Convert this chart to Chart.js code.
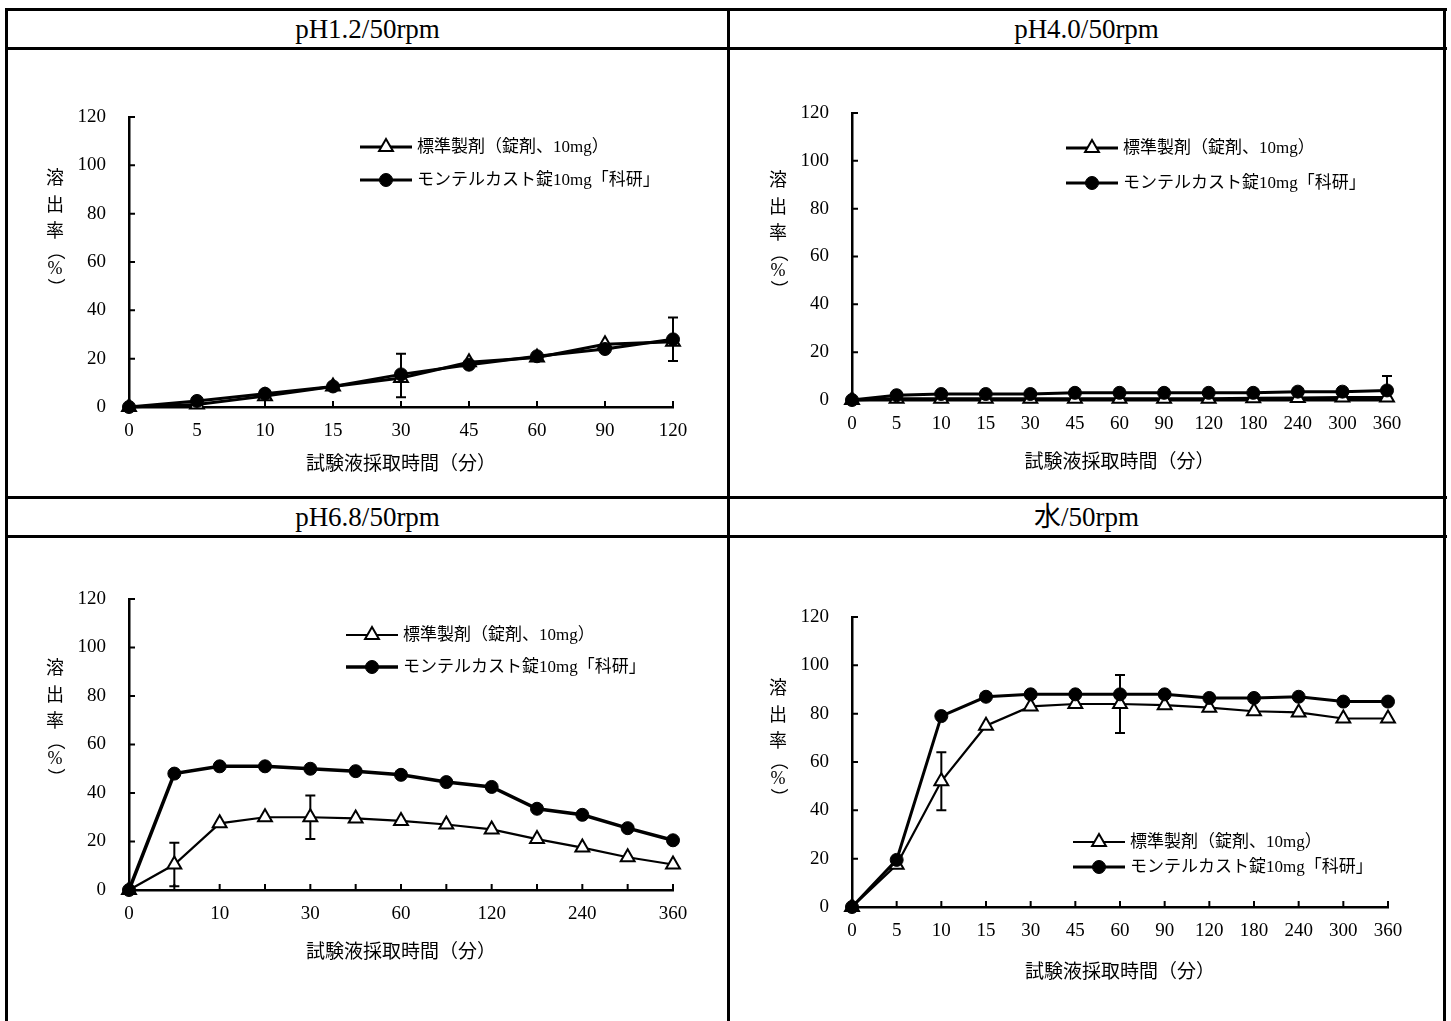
<!DOCTYPE html>
<html lang="ja">
<head>
<meta charset="utf-8">
<script src="https://cdn.jsdelivr.net/npm/chart.js@4.4.1/dist/chart.umd.min.js"></script>
<style>
  html, body { margin:0; padding:0; background:#fff; }
  #page { position:relative; width:1451px; height:1021px; overflow:hidden; background:#fff; }
  .rule { position:absolute; background:#000; }
  .head { position:absolute; height:36px; line-height:36px; text-align:center; font-family:'Liberation Serif','Noto Sans CJK JP',serif; font-size:27px; color:#000; white-space:nowrap; }
  canvas { position:absolute; }
</style>
</head>
<body>
<div id="page">
  <div class="rule" style="left:5px; top:8px; width:1442px; height:3px;"></div>
  <div class="rule" style="left:5px; top:47px; width:1442px; height:3px;"></div>
  <div class="rule" style="left:5px; top:496px; width:1442px; height:3px;"></div>
  <div class="rule" style="left:5px; top:535px; width:1442px; height:3px;"></div>
  <div class="rule" style="left:5px; top:8px; width:3px; height:1013px;"></div>
  <div class="rule" style="left:727px; top:8px; width:3px; height:1013px;"></div>
  <div class="rule" style="left:1443px; top:8px; width:3px; height:1013px;"></div>
  <div class="head" id="h1" style="left:8px; width:719px; top:11px;"></div>
  <div class="head" id="h2" style="left:730px; width:713px; top:11px;"></div>
  <div class="head" id="h3" style="left:8px; width:719px; top:499px;"></div>
  <div class="head" id="h4" style="left:730px; width:713px; top:499px;"></div>
</div>
<script>
// ---- data ----
const panelTitles = ['pH1.2/50rpm', 'pH4.0/50rpm', 'pH6.8/50rpm', '水/50rpm'];
const seriesNames = ['標準製剤（錠剤、10mg）', 'モンテルカスト錠10mg「科研」'];
const yTitle = '溶出率（%）';
const xTitle = '試験液採取時間（分）';

const timeShort = ['0', '5', '10', '15', '30', '45', '60', '90', '120'];
const timeLong = ['0', '5', '10', '15', '30', '45', '60', '90', '120', '180', '240', '300', '360'];
const ticks68 = ['0', '', '10', '', '30', '', '60', '', '120', '', '240', '', '360'];

// pH1.2
const std12 = [0, 1, 4.5, 8.5, 12, 18.5, 20.5, 26, 27];
const kaken12 = [0, 2.5, 5.5, 8.5, 13.5, 17.5, 21, 24, 28];
const errAt12 = [4, 8];
const errLow12 = [4, 19];
const errHigh12 = [22, 37];

// pH4.0
const std40 = [0, 0.5, 0.5, 0.5, 0.5, 0.5, 0.5, 0.5, 0.5, 0.7, 0.8, 1, 1];
const kaken40 = [0, 2, 2.5, 2.5, 2.5, 3, 3, 3, 3, 3, 3.5, 3.5, 4];
const errAt40 = [12];
const errLow40 = [0];
const errHigh40 = [10];

// pH6.8
const std68 = [0, 10.5, 27.5, 30, 30, 29.5, 28.5, 27, 25, 21, 17.5, 13.5, 10.5];
const kaken68 = [0, 48, 51, 51, 50, 49, 47.5, 44.5, 42.5, 33.5, 31, 25.5, 20.5];
const errAt68 = [1, 4];
const errLow68 = [1.5, 21];
const errHigh68 = [19.5, 39];

// water
const stdW = [0, 17.5, 52, 75, 83, 84, 84, 83.5, 82.5, 81, 80.5, 78, 78];
const kakenW = [0, 19.5, 79, 87, 88, 88, 88, 88, 86.5, 86.5, 87, 85, 85];
const errAtW = [2, 6];
const errLowW = [40, 72];
const errHighW = [64, 96];

// ---- layout (page coords) ----
const panels = [
  { head:'h1', box:[8, 50, 719, 446], area:[129, 117, 673, 407], xTitleY:465, yTitleTop:179, legend:[360, 147, 180],
    labels:timeShort, ticks:timeShort, std:std12, kaken:kaken12, errAt:errAt12, errLow:errLow12, errHigh:errHigh12, widths:[3, 3] },
  { head:'h2', box:[730, 50, 713, 446], area:[852, 113, 1387, 400], xTitleY:463, yTitleTop:181, legend:[1066, 148, 183],
    labels:timeLong, ticks:timeLong, std:std40, kaken:kaken40, errAt:errAt40, errLow:errLow40, errHigh:errHigh40, widths:[3, 3] },
  { head:'h3', box:[8, 538, 719, 483], area:[129, 599, 673, 890], xTitleY:953, yTitleTop:669, legend:[346, 635, 667],
    labels:timeLong, ticks:ticks68, std:std68, kaken:kaken68, errAt:errAt68, errLow:errLow68, errHigh:errHigh68, widths:[2.2, 3.5] },
  { head:'h4', box:[730, 538, 713, 483], area:[852, 617, 1388, 907], xTitleY:973, yTitleTop:689, legend:[1073, 842, 867],
    labels:timeLong, ticks:timeLong, std:stdW, kaken:kakenW, errAt:errAtW, errLow:errLowW, errHigh:errHighW, widths:[2.2, 3] }
];

const FONT = "'Liberation Serif', 'Noto Sans CJK JP', serif";
Chart.defaults.font.family = FONT;
Chart.defaults.color = '#000';

const page = document.getElementById('page');

function drawMarker(ctx, ds, x, y) {
  ctx.fillStyle = ds.pointBackgroundColor;
  ctx.strokeStyle = ds.pointBorderColor;
  ctx.lineWidth = ds.pointBorderWidth;
  Chart.helpers.drawPoint(ctx, { pointStyle: ds.pointStyle, radius: ds.pointRadius, rotation: 0, borderWidth: ds.pointBorderWidth }, x, y);
}

const decorPlugin = {
  id: 'decor',
  beforeDatasetsDraw(chart, args, o) {
    const { ctx, chartArea: a, scales: { x, y } } = chart;
    ctx.save();
    ctx.strokeStyle = '#000';
    ctx.lineWidth = 2;
    // inner tick marks
    ctx.beginPath();
    y.ticks.forEach(t => {
      const py = y.getPixelForValue(t.value);
      ctx.moveTo(a.left, py); ctx.lineTo(a.left + 6, py);
    });
    chart.data.labels.forEach((l, i) => {
      const px = x.getPixelForValue(i);
      ctx.moveTo(px, a.bottom); ctx.lineTo(px, a.bottom - 6);
    });
    ctx.stroke();
    // error bars
    ctx.beginPath();
    o.errAt.forEach((idx, i) => {
      const px = x.getPixelForValue(idx);
      const top = y.getPixelForValue(o.errHigh[i]);
      const bot = y.getPixelForValue(o.errLow[i]);
      ctx.moveTo(px, top); ctx.lineTo(px, bot);
      ctx.moveTo(px - 5, top); ctx.lineTo(px + 5, top);
      if (o.errLow[i] > 0) { ctx.moveTo(px - 5, bot); ctx.lineTo(px + 5, bot); }
    });
    ctx.stroke();
    ctx.restore();
  },
  afterDraw(chart, args, o) {
    const { ctx, chartArea: a } = chart;
    ctx.save();
    ctx.fillStyle = '#000';
    // vertical y title
    ctx.font = "18px " + FONT;
    ctx.textAlign = 'center';
    ctx.textBaseline = 'middle';
    const cx = a.left - 74;
    const steps = [0, 27, 53, 72, 90, 108];
    [...yTitle].forEach((ch, i) => {
      const cy = o.yTitleTop + steps[i];
      if (ch === '（' || ch === '）') {
        ctx.save();
        ctx.translate(cx, cy);
        ctx.rotate(Math.PI / 2);
        ctx.fillText(ch, 0, 0);
        ctx.restore();
      } else {
        ctx.fillText(ch, cx, cy);
      }
    });
    // legend
    const [lx, ly1, ly2] = o.legend;
    const sets = chart.data.datasets;
    [ly1, ly2].forEach((ly, i) => {
      const ds = sets[i];
      ctx.strokeStyle = '#000';
      ctx.lineWidth = ds.borderWidth;
      ctx.beginPath();
      ctx.moveTo(lx, ly); ctx.lineTo(lx + 52, ly);
      ctx.stroke();
      drawMarker(ctx, ds, lx + 26, ly);
      ctx.fillStyle = '#000';
      ctx.font = "17px " + FONT;
      ctx.textAlign = 'left';
      ctx.textBaseline = 'middle';
      ctx.fillText(seriesNames[i], lx + 57, ly + 1);
    });
    ctx.restore();
  }
};

panels.forEach((p, n) => {
  document.getElementById(p.head).textContent = panelTitles[n];
  const [bx, by, bw, bh] = p.box;
  const [al, at, ar, ab] = p.area;
  const cv = document.createElement('canvas');
  cv.width = bw; cv.height = bh;
  cv.style.left = bx + 'px'; cv.style.top = by + 'px';
  cv.style.width = bw + 'px'; cv.style.height = bh + 'px';
  page.appendChild(cv);

  const xFont = 19;
  new Chart(cv.getContext('2d'), {
    type: 'line',
    data: {
      labels: p.labels,
      datasets: [
        { label: seriesNames[0], data: p.std, borderColor: '#000', borderWidth: p.widths[0], tension: 0,
          pointStyle: 'triangle', pointRadius: 8, pointBackgroundColor: '#fff', pointBorderColor: '#000', pointBorderWidth: 2,
          clip: false, order: 2 },
        { label: seriesNames[1], data: p.kaken, borderColor: '#000', borderWidth: p.widths[1], tension: 0,
          pointStyle: 'circle', pointRadius: 6.5, pointBackgroundColor: '#000', pointBorderColor: '#000', pointBorderWidth: 1,
          clip: false, order: 1 }
      ]
    },
    options: {
      responsive: false, animation: false, events: [], devicePixelRatio: 1,
      layout: { padding: { left: 0, top: at - by, right: bx + bw - ar, bottom: 0 } },
      plugins: {
        legend: { display: false },
        tooltip: { enabled: false },
        decor: {
          errAt: p.errAt, errLow: p.errLow, errHigh: p.errHigh,
          yTitleTop: p.yTitleTop - by,
          legend: [p.legend[0] - bx, p.legend[1] - by, p.legend[2] - by]
        }
      },
      scales: {
        x: {
          type: 'category', offset: false,
          grid: { display: false, drawTicks: false },
          border: { display: true, color: '#000', width: 2.5 },
          ticks: { color: '#000', font: { size: 19 }, padding: 13, maxRotation: 0, autoSkip: false,
                   callback: (v, i) => p.ticks[i] },
          title: { display: true, text: xTitle, color: '#000', font: { size: xFont },
                   padding: { top: 0, bottom: by + bh - p.xTitleY - xFont * 0.6 } },
          afterFit: s => { s.height = by + bh - ab; s.paddingLeft = 0; s.paddingRight = 0; }
        },
        y: {
          min: 0, max: 120,
          grid: { display: false, drawTicks: false },
          border: { display: true, color: '#000', width: 2.5 },
          ticks: { stepSize: 20, color: '#000', font: { size: 19 }, padding: 23 },
          afterFit: s => { s.width = al - bx; s.paddingTop = 0; s.paddingBottom = 0; }
        }
      }
    },
    plugins: [decorPlugin]
  });
});
</script>
</body>
</html>
